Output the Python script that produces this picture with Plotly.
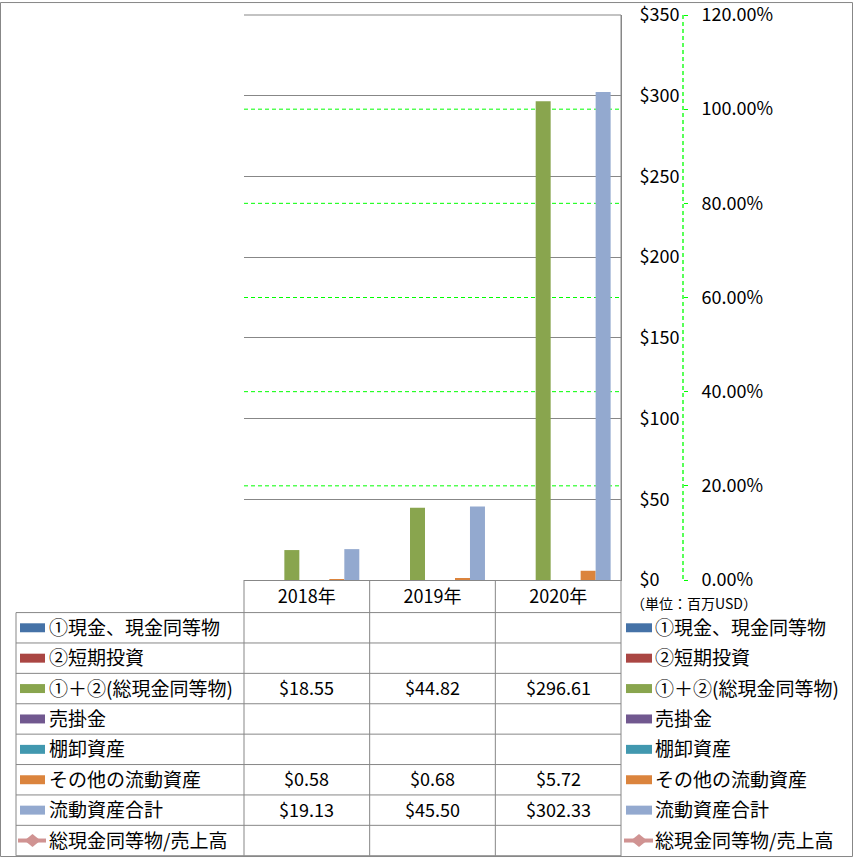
import plotly.graph_objects as go

# ---------------- data ----------------
years = ["2018年", "2019年", "2020年"]
series_names = ["①現金、現金同等物", "②短期投資", "①＋②(総現金同等物)", "売掛金",
                "棚卸資産", "その他の流動資産", "流動資産合計"]
cash = [None, None, None]
short_inv = [None, None, None]
total_cash = [18.55, 44.82, 296.61]
receivable = [None, None, None]
inventory = [None, None, None]
other_current = [0.58, 0.68, 5.72]
current_total = [19.13, 45.50, 302.33]
ratio_name = "総現金同等物/売上高"
ratio = [None, None, None]
unit_label = "（単位：百万USD）"
usd_ticks = [0, 50, 100, 150, 200, 250, 300, 350]
pct_ticks = [0, 0.2, 0.4, 0.6, 0.8, 1.0, 1.2]

bar_values = [cash, short_inv, total_cash, receivable, inventory, other_current, current_total]
bar_colors = ["#4572A7", "#AA4643", "#89A54E", "#71588F", "#4198AF", "#DB843D", "#93A9CF"]
line_color = "#D09392"

# ---------------- layout helpers ----------------
W, H = 853, 858
PL, PR, PT, PB = 244, 853, 13, 580
PW, PH = PR - PL, PB - PT
PLOT_R = 621
FONT = "Noto Sans CJK JP"
GRID = "#878787"
GREEN = "#00FF00"


def fx(px):
    return (px - PL) / PW


def fy(py):
    return (PB - py) / PH


fig = go.Figure()
for name, vals, col in zip(series_names, bar_values, bar_colors):
    fig.add_trace(go.Bar(x=years, y=vals, name=name, marker_color=col,
                         marker_line_width=0, showlegend=False))
fig.add_trace(go.Scatter(x=years, y=ratio, name=ratio_name, yaxis="y2",
                         mode="lines+markers", line=dict(color=line_color, width=3),
                         marker=dict(symbol="diamond", size=10, color=line_color),
                         showlegend=False))

shapes = []
annotations = []


def hline(y, x0, x1, color=GRID, width=1):
    shapes.append(dict(type="line", xref="paper", yref="paper", x0=fx(x0), x1=fx(x1),
                       y0=fy(y), y1=fy(y), line=dict(color=color, width=width)))


def vline(x, y0, y1, color=GRID, width=1, dash=None):
    ln = dict(color=color, width=width)
    if dash:
        ln["dash"] = dash
    shapes.append(dict(type="line", xref="paper", yref="paper", x0=fx(x), x1=fx(x),
                       y0=fy(y0), y1=fy(y1), line=ln))


# outer border
shapes.append(dict(type="rect", xref="paper", yref="paper", x0=fx(0.5), x1=fx(852.5),
                   y0=fy(0.5), y1=fy(857.5), line=dict(color=GRID, width=1)))

# top gridline of plot area
hline(PT, PL, PLOT_R)

# secondary-axis gridlines (green dashed), placed through the y2 scale
for v in pct_ticks[1:-1]:
    shapes.append(dict(type="line", xref="paper", yref="y2", x0=0, x1=fx(PLOT_R),
                       y0=v, y1=v, layer="below",
                       line=dict(color=GREEN, width=1, dash="4px,3px")))

# secondary axis dashed line
vline(683, PT, PB, color=GREEN, width=1.3, dash="4px,3px")

# data table grid
HEAD_B = 612.7
ROW_H = 30.5
n_rows = len(series_names) + 1
row_lines = [HEAD_B + ROW_H * i for i in range(n_rows + 1)]
col_w = (PLOT_R - PL) / len(years)
for y in row_lines:
    hline(y, 16, PLOT_R)
vline(16, HEAD_B, row_lines[-1])
for i in range(len(years)):
    vline(PL + col_w * i, PB, row_lines[-1])
vline(PLOT_R, PT, 857)

# legend entries (left in table and right side)
all_names = series_names + [ratio_name]
all_colors = bar_colors + [line_color]
for i, (name, col) in enumerate(zip(all_names, all_colors)):
    cy = HEAD_B + ROW_H * (i + 0.5)
    for kx0, kx1, tx in [(20, 45, 47), (626, 652, 653)]:
        if i < len(series_names):
            shapes.append(dict(type="rect", xref="paper", yref="paper",
                               x0=fx(kx0), x1=fx(kx1), y0=fy(cy - 4.5), y1=fy(cy + 4.5),
                               fillcolor=col, line=dict(width=0)))
        else:
            shapes.append(dict(type="line", xref="paper", yref="paper",
                               x0=fx(kx0 - 2), x1=fx(kx1 + 1), y0=fy(cy), y1=fy(cy),
                               line=dict(color=col, width=4)))
            mx = (kx0 + kx1) / 2
            path = (f"M {fx(mx - 8)} {fy(cy)} L {fx(mx)} {fy(cy - 6.5)} "
                    f"L {fx(mx + 8)} {fy(cy)} L {fx(mx)} {fy(cy + 6.5)} Z")
            shapes.append(dict(type="path", xref="paper", yref="paper", path=path,
                               fillcolor=col, line=dict(width=0)))
        annotations.append(dict(xref="paper", yref="paper", x=fx(tx), y=fy(cy - 1.5),
                                text=name, showarrow=False, xanchor="left", yanchor="middle",
                                font=dict(family=FONT, size=19, color="black")))

# table values
for i, vals in enumerate(bar_values):
    cy = HEAD_B + ROW_H * (i + 0.5)
    for j, v in enumerate(vals):
        if v is None:
            continue
        cx = PL + col_w * (j + 0.5)
        annotations.append(dict(xref="paper", yref="paper", x=fx(cx), y=fy(cy - 1.5),
                                text=f"${v:.2f}", showarrow=False, xanchor="center",
                                yanchor="middle", font=dict(family=FONT, size=18, color="black")))

annotations.append(dict(xref="paper", yref="paper", x=fx(629), y=fy(603), text=unit_label,
                        showarrow=False, xanchor="left", yanchor="middle",
                        font=dict(family=FONT, size=14, color="black")))

fig.update_layout(
    width=W, height=H,
    margin=dict(l=PL, r=W - PR, t=PT, b=H - PB, pad=0),
    paper_bgcolor="white", plot_bgcolor="white",
    barmode="group", bargap=0.165, bargroupgap=0,
    font=dict(family=FONT, size=18, color="black"),
    xaxis=dict(domain=[0, fx(PLOT_R)], showline=True, linecolor=GRID, linewidth=1,
               ticks="", showgrid=False, tickfont=dict(size=18), ticklabelstandoff=0),
    yaxis=dict(side="right", range=[0, 350.01], tickmode="array", tickvals=usd_ticks,
               ticktext=[f"${v}" for v in usd_ticks], showgrid=True,
               gridcolor=GRID, gridwidth=1, showline=True, linecolor=GRID, ticks="",
               zeroline=False, ticklabelstandoff=14, tickfont=dict(size=18),
               ticklabeloverflow="allow"),
    yaxis2=dict(overlaying="y", side="right", anchor="free", position=fx(683),
                range=[0, 1.20003], tickmode="array", tickvals=pct_ticks,
                ticktext=[f"{v * 100:.2f}%" for v in pct_ticks], showgrid=False,
                zeroline=False,
                ticks="outside", ticklen=4, tickcolor=GREEN, showline=False,
                ticklabelstandoff=10, tickfont=dict(size=18), ticklabeloverflow="allow"),
    shapes=shapes, annotations=annotations, showlegend=False,
)

fig.write_html("out.html")
